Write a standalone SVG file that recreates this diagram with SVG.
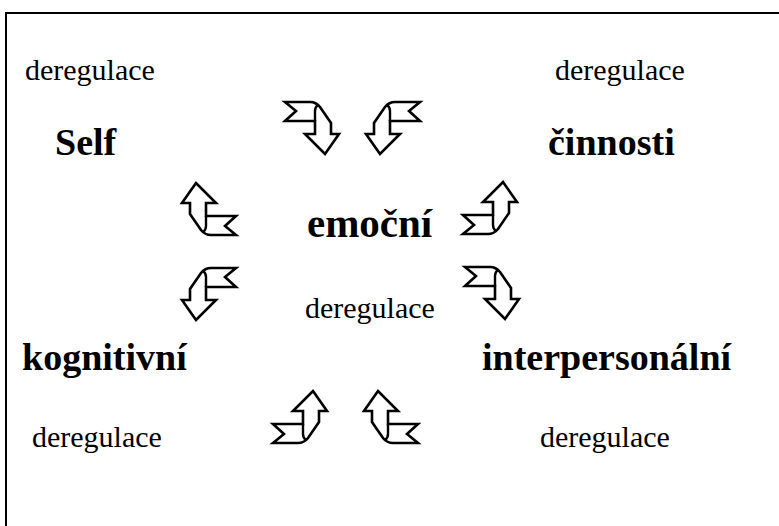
<svg xmlns="http://www.w3.org/2000/svg" width="779" height="526" viewBox="0 0 779 526">
<style>
.r{font-family:"Liberation Serif","Times New Roman",serif;font-size:30px;fill:#000}
.b{font-family:"Liberation Serif","Times New Roman",serif;font-size:38px;font-weight:bold;fill:#000}
.a{fill:#fff;stroke:#000;stroke-width:2.6;stroke-linejoin:miter}
.i{fill:none;stroke:#000;stroke-width:2.4}
</style>
<defs>
<g id="arr">
<path class="a" d="M0,0 L25,0 Q31,0 35,5 L46,21 L46,32 L54,32 L40,52 L20,32 L30,32 L30,19 L0,19 L11,9 Z"/>
<path class="i" d="M30,19 V9 Q30,5 33,3"/>
</g>
</defs>
<rect x="6" y="13" width="800" height="600" fill="#fff" stroke="#000" stroke-width="2"/>
<g id="n-dereg-tl"><text class="r" x="25" y="80">deregulace</text></g>
<g id="n-dereg-tr"><text class="r" x="555" y="80">deregulace</text></g>
<g id="n-self"><text class="b" x="55" y="155">Self</text></g>
<g id="n-cinnosti"><text class="b" x="548" y="155">činnosti</text></g>
<g id="n-emocni"><text class="b" x="307" y="237" style="font-size:41px">emoční</text></g>
<g id="n-dereg-c"><text class="r" x="305" y="318">deregulace</text></g>
<g id="n-kognitivni"><text class="b" x="22" y="370">kognitivní</text></g>
<g id="n-interpersonalni"><text class="b" x="482" y="370">interpersonální</text></g>
<g id="n-dereg-bl"><text class="r" x="32" y="447">deregulace</text></g>
<g id="n-dereg-br"><text class="r" x="540" y="447">deregulace</text></g>
<g id="connectors">
<use href="#arr" transform="translate(285,102)"/>
<use href="#arr" transform="translate(420,102) scale(-1,1)"/>
<use href="#arr" transform="translate(236,235) rotate(180)"/>
<use href="#arr" transform="translate(463,234) scale(1,-1)"/>
<use href="#arr" transform="translate(236,268) scale(-1,1)"/>
<use href="#arr" transform="translate(465,267)"/>
<use href="#arr" transform="translate(273,443) scale(1,-1)"/>
<use href="#arr" transform="translate(418,443) rotate(180)"/>
</g>
</svg>
